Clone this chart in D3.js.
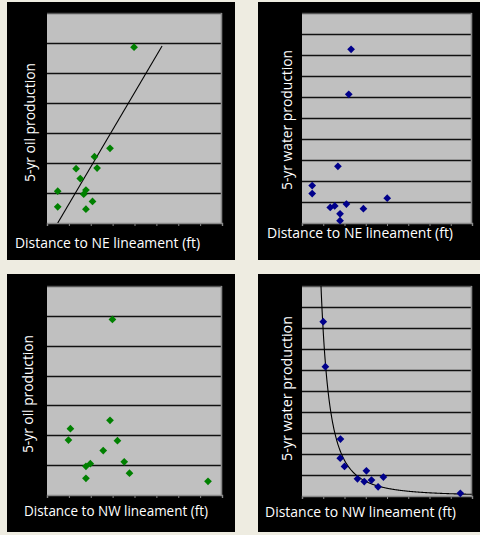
<!DOCTYPE html>
<html>
<head>
<meta charset="utf-8">
<script src="https://cdn.jsdelivr.net/npm/d3@7"></script>
<style>
  html, body { margin: 0; padding: 0; background: #EEECE1; }
  svg { display: block; }
  text { font-family: "Open Sans", "Noto Sans", Lato, sans-serif; font-weight: 400; }
</style>
</head>
<body>
<svg id="chart" width="480" height="535"></svg>
<script>
// Distance to the NE lineament (chart units) and 5-yr oil production per well
const neDistOil   = [3.98, 2.88, 2.17, 1.33, 2.29, 1.52, 0.49, 1.78, 1.68, 0.49, 2.08, 1.78];
const oilProdNE   = [5.86, 2.49, 2.21, 1.81, 1.83, 1.48, 1.06, 1.10, 0.96, 0.54, 0.72, 0.46];

// Distance to the NE lineament and 5-yr water production per well
const neDistWater = [2.31, 2.20, 1.69, 0.48, 0.48, 4.01, 2.09, 1.33, 1.54, 2.89, 1.79, 1.79];
const waterProdNE = [8.27, 6.13, 2.70, 1.78, 1.40, 1.18, 0.90, 0.74, 0.81, 0.68, 0.44, 0.11];

// Distance to the NW lineament and 5-yr oil production per well
const nwDistOil   = [2.99, 2.88, 1.07, 0.98, 3.22, 2.57, 3.53, 1.98, 1.78, 3.77, 1.78, 7.36];
const oilProdNW   = [5.88, 2.50, 2.22, 1.84, 1.82, 1.49, 1.11, 1.05, 0.96, 0.73, 0.56, 0.46];

// Distance to the NW lineament and 5-yr water production per well
const nwDistWater = [1.00, 1.10, 1.81, 1.80, 2.00, 3.03, 2.61, 2.93, 3.27, 3.83, 3.58, 7.45];
const waterProdNW = [8.30, 6.16, 2.71, 1.80, 1.41, 1.20, 0.82, 0.69, 0.76, 0.90, 0.44, 0.13];

// Axis extents (one gridline per unit)
const xMax = 8;
const oilMax = 7;
const waterMax = 10;

// Linear trend for oil vs NE distance: y = slope * x + intercept
const oilTrendNE = { slope: 1.237, intercept: -0.606, from: 0.49, to: 5.26 };
// Power trend for water vs NW distance: y = a * x^b
const waterTrendNW = { a: 7.81, b: -2.2, from: 0.85, to: 8 };

// Labels
const xTitles = ["Distance to NE lineament (ft)", "Distance to NE lineament (ft)",
                 "Distance to NW lineament (ft)", "Distance to NW lineament (ft)"];
const yTitles = ["5-yr oil production", "5-yr water production",
                 "5-yr oil production", "5-yr water production"];

const GREEN = "#008000";
const NAVY = "#00008B";

// Panel layout: outer black frame, inner plot area, title placement
const panels = [
  { frame: [7, 2, 235, 260],   plot: [47, 13, 222, 223],
    xs: neDistOil, ys: oilProdNE, yMax: oilMax, color: GREEN,
    xt: { x: 15, y: 248, len: 185 }, yt: { x: 30, y: 122.5, len: 119 }, trend: "linear" },
  { frame: [258, 2, 480, 260], plot: [302, 13, 472, 223],
    xs: neDistWater, ys: waterProdNE, yMax: waterMax, color: NAVY,
    xt: { x: 267, y: 237.5, len: 186 }, yt: { x: 287, y: 120, len: 140 } },
  { frame: [7, 274, 235, 532], plot: [47, 286, 222, 495],
    xs: nwDistOil, ys: oilProdNW, yMax: oilMax, color: GREEN,
    xt: { x: 24, y: 516, len: 184 }, yt: { x: 28, y: 394, len: 118 } },
  { frame: [258, 274, 480, 532], plot: [302, 286, 472, 496],
    xs: nwDistWater, ys: waterProdNW, yMax: waterMax, color: NAVY,
    xt: { x: 265, y: 516.5, len: 191 }, yt: { x: 287, y: 388.5, len: 145 }, trend: "power" }
];

const svg = d3.select("#chart");
svg.append("rect").attr("width", 480).attr("height", 535).attr("fill", "#EEECE1");

const diamond = d3.symbol().type(d3.symbolSquare).size(30);

panels.forEach((p, i) => {
  const [fx0, fy0, fx1, fy1] = p.frame;
  const [px0, py0, px1, py1] = p.plot;
  const g = svg.append("g");

  g.append("rect").attr("x", fx0).attr("y", fy0)
    .attr("width", fx1 - fx0).attr("height", fy1 - fy0).attr("fill", "#000");

  const x = d3.scaleLinear().domain([0, xMax]).range([px0, px1]);
  const y = d3.scaleLinear().domain([0, p.yMax]).range([py1, py0]);

  // plot area
  g.append("rect").attr("x", px0).attr("y", py0)
    .attr("width", px1 - px0).attr("height", py1 - py0).attr("fill", "#C0C0C0");

  // horizontal gridlines
  g.append("g").selectAll("line").data(d3.range(1, p.yMax))
    .join("line")
    .attr("x1", px0).attr("x2", px1)
    .attr("y1", d => Math.round(y(d)) + 0.5).attr("y2", d => Math.round(y(d)) + 0.5)
    .attr("stroke", "#111").attr("stroke-width", 1.3);

  // top and right border of the plot area
  g.append("line").attr("x1", px0).attr("x2", px1)
    .attr("y1", py0 + 0.5).attr("y2", py0 + 0.5)
    .attr("stroke", "#555").attr("stroke-width", 1.6);
  g.append("line").attr("x1", px1 - 0.5).attr("x2", px1 - 0.5)
    .attr("y1", py0).attr("y2", py1)
    .attr("stroke", "#888").attr("stroke-width", 1.6);

  // x axis with minor ticks, no labels
  const xAxis = d3.axisBottom(x).ticks(xMax).tickSize(3).tickFormat("");
  const ax = g.append("g").attr("transform", `translate(0,${py1})`).call(xAxis);
  ax.select(".domain").attr("stroke", "#888").attr("stroke-width", 1.4);
  ax.selectAll(".tick line").attr("stroke", "#888");

  // clip for trend lines
  const clipId = "clip" + i;
  g.append("clipPath").attr("id", clipId)
    .append("rect").attr("x", px0).attr("y", py0)
    .attr("width", px1 - px0).attr("height", py1 - py0);

  if (p.trend === "linear") {
    const t = oilTrendNE;
    const pts = [t.from, t.to].map(v => [v, t.slope * v + t.intercept]);
    g.append("path").attr("clip-path", `url(#${clipId})`)
      .attr("d", d3.line().x(d => x(d[0])).y(d => y(d[1]))(pts))
      .attr("fill", "none").attr("stroke", "#000").attr("stroke-width", 1.1);
  }
  if (p.trend === "power") {
    const t = waterTrendNW;
    const pts = d3.range(t.from, t.to + 0.001, 0.02).map(v => [v, t.a * Math.pow(v, t.b)]);
    g.append("path").attr("clip-path", `url(#${clipId})`)
      .attr("d", d3.line().x(d => x(d[0])).y(d => y(d[1]))(pts))
      .attr("fill", "none").attr("stroke", "#000").attr("stroke-width", 1.1);
  }

  // data points
  g.append("g").selectAll("path").data(p.xs.map((v, k) => [v, p.ys[k]]))
    .join("path")
    .attr("d", diamond)
    .attr("transform", d => `translate(${x(d[0])},${y(d[1])}) rotate(45)`)
    .attr("fill", p.color);

  // axis titles
  g.append("text").attr("x", p.xt.x).attr("y", p.xt.y)
    .attr("fill", "#fff").attr("font-size", 14)
    .attr("textLength", p.xt.len).attr("lengthAdjust", "spacingAndGlyphs")
    .text(xTitles[i]);
  g.append("text")
    .attr("transform", `translate(${p.yt.x},${p.yt.y}) rotate(-90)`)
    .attr("text-anchor", "middle").attr("dy", "0.35em")
    .attr("fill", "#fff").attr("font-size", 14)
    .attr("textLength", p.yt.len).attr("lengthAdjust", "spacingAndGlyphs")
    .text(yTitles[i]);
});
</script>
</body>
</html>
